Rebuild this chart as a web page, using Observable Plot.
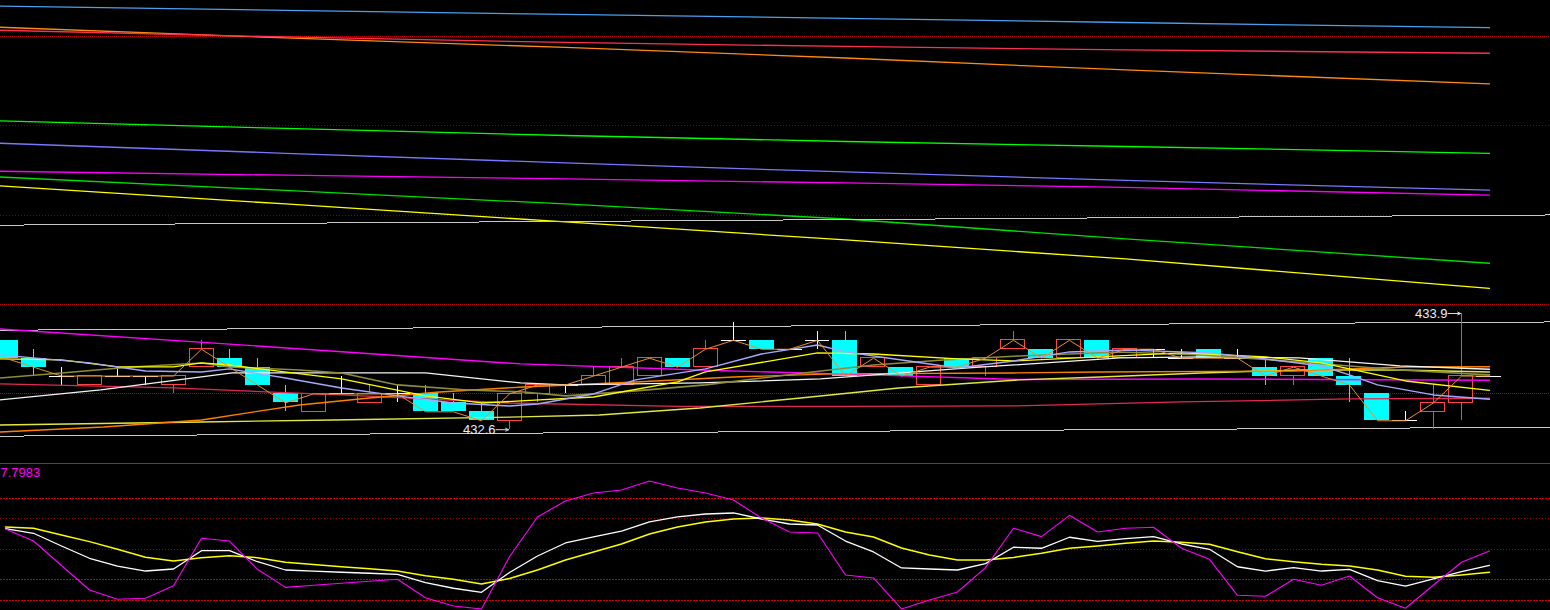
<!DOCTYPE html>
<html><head><meta charset="utf-8">
<script src="https://cdn.jsdelivr.net/npm/d3@7"></script>
<script src="https://cdn.jsdelivr.net/npm/@observablehq/plot@0.6"></script>
<style>
html,body{margin:0;padding:0;background:#000;overflow:hidden;}
#chart{width:1550px;height:610px;background:#000;overflow:hidden;}
#chart svg{display:block;max-width:none;}
</style></head><body><div id="chart"></div>
<script>
// ---------- candles (index 0..53) ----------
const open  = [433.6,433.4,433.2,433.1,433.2,433.2,433.1,433.3,433.4,433.3, 433.0,432.8,433.0,432.9,433.0,433.0,432.9,432.8,432.7,433.0, 433.1,433.1,433.1,433.2,433.4,433.3,433.6,433.6,433.5,433.6, 433.6,433.3,433.3,433.1,433.4,433.3,433.5,433.5,433.4,433.6, 433.4,433.5,433.4,433.5,433.4,433.3,433.2,433.4,433.2,433.0, 432.7,432.8,432.9,433.2];
const close = [433.4,433.3,433.2,433.2,433.2,433.2,433.2,433.5,433.3,433.1, 432.9,433.0,433.0,433.0,433.0,432.8,432.8,432.7,433.0,433.1, 433.1,433.2,433.3,433.4,433.3,433.5,433.6,433.5,433.5,433.6, 433.2,433.4,433.2,433.3,433.3,433.4,433.6,433.4,433.6,433.4, 433.5,433.5,433.4,433.4,433.4,433.2,433.3,433.2,433.1,432.7, 432.7,432.9,433.2,433.2];
const high  = [433.6,433.5,433.3,433.2,433.3,433.2,433.2,433.6,433.5,433.4, 433.1,433.0,433.2,433.1,433.1,433.1,433.0,432.9,433.0,433.1, 433.1,433.3,433.4,433.4,433.4,433.6,433.8,433.6,433.5,433.7, 433.7,433.4,433.3,433.3,433.4,433.4,433.7,433.5,433.6,433.6, 433.5,433.5,433.5,433.5,433.5,433.4,433.3,433.4,433.4,433.0, 432.8,433.1,433.9,433.2];
const low   = [433.4,433.2,433.1,433.1,433.2,433.1,433.0,433.3,433.3,433.1, 432.8,432.8,433.0,432.9,432.9,432.8,432.8,432.7,432.6,432.9, 433.0,433.1,433.1,433.2,433.3,433.3,433.6,433.5,433.5,433.5, 433.2,433.3,433.2,433.1,433.3,433.2,433.5,433.4,433.4,433.4, 433.4,433.4,433.4,433.4,433.4,433.1,433.1,433.2,432.9,432.7, 432.7,432.6,432.7,433.2];

// ---------- long moving averages (top area) ----------
const longIdx      = [-0.2, 10, 20, 30, 40, 53];
const maBlueLong   = [437.337,437.291,437.246,437.201,437.155,437.097];
const maOrangeLong = [437.102,436.982,436.876,436.758,436.624,436.468];
const maRedLong    = [437.068,436.993,436.932,436.887,436.848,436.811];
const maGreenLong  = [436.054,435.970,435.891,435.824,435.768,435.692];
const maSlateLong  = [435.804,435.692,435.584,435.483,435.388,435.279];
const maPinkLong   = [435.491,435.447,435.405,435.360,435.310,435.223];
const maGreen2Long = [435.427,435.276,435.125,434.957,434.734,434.462];
const maYellowLong = [435.327,435.125,434.924,434.723,434.510,434.182];

// ---------- channel lines ----------
const channelIdx = [-0.2, 55.16];
const chanUpper  = [434.888, 435.002];
const chanMid    = [433.713, 433.805];
const chanLow    = [432.528, 432.628];

// ---------- short moving averages (candle area) ----------
const ma5Idx = [-0.2,1,3,5,7,8,10,12,14,16,18,19,21,22.5,25,27,29,30,32,34,36,38,40,43,45,47,48,49,51,53];
const ma5Val = [433.436,433.403,433.347,433.257,433.246,433.280,433.179,433.067,432.978,432.899,432.866,432.888,433.000,433.157,433.280,433.447,433.548,433.470,433.380,433.291,433.369,433.470,433.492,433.459,433.392,433.313,433.213,433.101,432.989,432.941];
const ma10Idx = [-0.2,2,4,6,7,8,12,15,17,18.4,21,24,25,29,31,34,36,39,42,45,47,50,53];
const ma10Val = [433.392,433.380,433.302,433.302,433.347,433.324,433.168,432.978,432.899,432.922,432.966,433.134,433.246,433.459,433.447,433.392,433.369,433.414,433.459,433.414,433.347,433.145,433.041];
const ma20Idx = [-0.2,2,4.5,7,8,10.5,12,14,16.5,18.5,20,22.5,25,28.5,31,33.5,36.2,39.8,42.7,46.2,49.8,53];
const ma20Val = [433.179,433.235,433.302,433.347,433.302,433.268,433.235,433.101,433.045,433.022,432.978,433.034,433.101,433.235,433.324,433.380,433.425,433.470,433.436,433.358,433.268,433.213];
const maWhiteIdx = [-0.2,3.4,8.1,15,18.4,20,24.8,29.1,34.4,39.8,42.7,46.2,49.8,53];
const maWhiteVal = [432.933,433.045,433.235,433.235,433.123,433.101,433.123,433.168,433.291,433.403,433.414,433.403,433.313,433.276];
const maOrangeIdx = [-0.2,3.5,7,10.5,13,15.5,18.5,22.5,26,29.5,36,39,46,50,53];
const maOrangeVal = [432.575,432.631,432.709,432.877,432.955,433.022,433.078,433.134,433.190,433.224,433.235,433.246,433.257,433.302,433.305];
const maLimeIdx = [-0.2,7,11.7,18.4,21.2,24.8,28.4,31.9,36.2,39.1,42.7,46.2,49.8,53];
const maLimeVal = [432.653,432.687,432.709,432.743,432.765,432.843,432.955,433.067,433.157,433.190,433.235,433.268,433.268,433.246];
const maMagentaIdx = [-0.2,9,18.4,24.8,30.9,36.2,42.7,53];
const maMagentaVal = [433.727,433.537,433.336,433.268,433.213,433.162,433.168,433.153];
const maCrimsonIdx = [-0.2,6,12,18,24,30,36,42,48,53];
const maCrimsonVal = [433.112,433.067,432.989,432.899,432.860,432.860,432.866,432.911,432.944,432.952];

// ---------- grid & labels ----------
const gridBright = [437, 434, 433];
const gridDim    = [436, 435];
const extremes = [{i: 52, p: 433.9, label: "433.9"}, {i: 18, p: 432.6, label: "432.6"}];

// ---------- KDJ ----------
const kdjJ = [69.9,58.1,34.1,10.1,1.0,2.0,14.3,60.8,58.1,30.4, 12.7,14.7,16.7,18.6,20.6,2.5,-5.6,-8.5,42.7,81.7, 97.4,105.2,108.1,117.0,110.1,105.2,98.3,80.7,67.0,66.0, 24.8,21.9,-8.5,0.3,8.1,32.0,70.6,62.4,83.3,67.0, 70.6,71.6,51.0,40.2,4.9,3.9,20.6,14.7,23.8,2.5, -7.8,15.0,37.3,48.3];
const kdjK = [70.3,65.7,53.2,41.2,33.6,28.7,30.7,48.6,48.6,37.8, 29.7,28.6,27.5,26.5,25.5,17.3,11.8,7.8,27.2,43.4, 56.2,62.1,67.9,76.8,81.7,84.6,85.6,79.7,74.8,73.8, 58.1,47.4,31.7,30.7,29.7,36.0,52.0,51.0,61.8,57.8, 60.4,62.4,55.2,50.0,32.9,28.7,32.0,28.7,30.4,19.2, 14.0,20.9,28.0,34.3];
const kdjD = [71.9,70.6,64.0,57.5,50.0,42.2,38.5,41.8,43.7,41.8, 37.3,35.1,33.0,30.9,28.7,24.1,20.6,16.0,21.4,29.7, 39.5,47.4,55.2,65.0,71.9,76.8,79.7,80.7,78.7,74.8, 67.0,62.1,51.3,44.4,39.5,39.5,42.0,46.1,51.0,53.2, 55.9,58.1,56.9,54.9,47.6,40.8,37.8,35.3,33.6,29.7, 23.5,22.5,24.8,27.5];
const kdjGridBright = [100, 20, 0];
const kdjGridDim = [80, 50];
const kdjLabel = "7.7983";

// ---------- build ----------
const candles = open.map((o, i) => ({i, open: o, close: close[i], high: high[i], low: low[i],
  dir: close[i] > o ? "up" : close[i] < o ? "down" : "flat"}));
const up = candles.filter(d => d.dir === "up");
const down = candles.filter(d => d.dir === "down");
const flat = candles.filter(d => d.dir === "flat");
const pts = (ix, v) => ix.map((x, k) => ({x, y: v[k]}));

const xDomain = [-0.1786, 55.1786];
const yDomain = [432.222, 437.401];
const kdjDomain = [-10.0, 134.1];
const crisp = {shapeRendering: "crispEdges"};
const style = {background: "#000", fontFamily: "'Liberation Sans', Arial, sans-serif", fontSize: "13px"};

const longLines = [
  [longIdx, maBlueLong, "#4a9ff0"], [longIdx, maOrangeLong, "#ff8a10"], [longIdx, maRedLong, "#ff3050"],
  [longIdx, maGreenLong, "#00ff00"], [longIdx, maSlateLong, "#7878ff"], [longIdx, maPinkLong, "#ff00ff"],
  [longIdx, maGreen2Long, "#00e000"], [longIdx, maYellowLong, "#ffff00"]
];
const shortLines = [
  [maCrimsonIdx, maCrimsonVal, "#e02a55", 1.3],
  [maMagentaIdx, maMagentaVal, "#ff00ff", 1.4],
  [maLimeIdx, maLimeVal, "#e0e840", 1.4],
  [maOrangeIdx, maOrangeVal, "#ff8000", 1.4],
  [maWhiteIdx, maWhiteVal, "#f4f4f4", 1.3],
  [ma20Idx, ma20Val, "#8c8c3a", 1.6],
  [ma10Idx, ma10Val, "#ffff00", 1.3],
  [ma5Idx, ma5Val, "#a8a8ff", 1.4]
];

const upper = Plot.plot({
  width: 1550, height: 463, margin: 0,
  x: {domain: xDomain, axis: null},
  y: {domain: yDomain, axis: null},
  style,
  marks: [
    Plot.ruleY(gridBright, {stroke: "#c00000", strokeDasharray: "1,1", ...crisp}),
    Plot.ruleY(gridDim, {stroke: "#8a0000", strokeDasharray: "1,2", ...crisp}),
    ...longLines.map(([ix, v, c]) => Plot.line(pts(ix, v), {x: "x", y: "y", stroke: c, strokeWidth: 1.3})),
    ...[chanUpper, chanMid, chanLow].map(v => Plot.line(pts(channelIdx, v), {x: "x", y: "y", stroke: "#c8c8c8", strokeWidth: 1, ...crisp})),
    Plot.ruleX(up, {x: "i", y1: "low", y2: "high", stroke: "#ff4444", ...crisp}),
    Plot.ruleX(down, {x: "i", y1: "low", y2: "high", stroke: "#00ffff", ...crisp}),
    Plot.ruleX(flat.filter(d => d.high > d.low), {x: "i", y1: "low", y2: "high", stroke: "#ffffff", ...crisp}),
    Plot.rect(up, {x1: d => d.i - 12/28, x2: d => d.i + 12/28, y1: "open", y2: "close", fill: "#000", stroke: "#ff4444", ...crisp}),
    Plot.rect(down, {x1: d => d.i - 12.5/28, x2: d => d.i + 12.5/28, y1: "open", y2: "close", fill: "#00ffff", ...crisp}),
    Plot.ruleY(flat, {y: "close", x1: d => d.i - 12.5/28, x2: d => d.i + 12.5/28, stroke: "#ffffff", ...crisp}),
    ...shortLines.map(([ix, v, c, w]) => Plot.line(pts(ix, v), {x: "x", y: "y", stroke: c, strokeWidth: w})),
    Plot.line(candles, {x: "i", y: "close", stroke: "#e8902a", strokeWidth: 1}),
    Plot.arrow(extremes, {x1: d => d.i - 0.48, x2: d => d.i - 0.03, y1: "p", y2: "p", stroke: "#d0dcf0", strokeWidth: 1, headLength: 5, headAngle: 50}),
    Plot.text(extremes, {x: "i", y: "p", text: "label", textAnchor: "end", dx: -14, fill: "#e6eeff", fontSize: 13})
  ]
});

const lower = Plot.plot({
  width: 1550, height: 147, margin: 0,
  x: {domain: xDomain, axis: null},
  y: {domain: kdjDomain, axis: null},
  style,
  marks: [
    Plot.ruleY([kdjDomain[1]], {stroke: "#b01c1c", ...crisp}),
    Plot.ruleY(kdjGridBright, {stroke: "#d00000", strokeDasharray: "2,1", ...crisp}),
    Plot.ruleY(kdjGridDim, {stroke: "#a00000", strokeDasharray: "1,2", ...crisp}),
    Plot.line(kdjD, {x: (d, k) => k, y: d => d, stroke: "#ffff00", strokeWidth: 1.5}),
    Plot.line(kdjK, {x: (d, k) => k, y: d => d, stroke: "#ffffff", strokeWidth: 1.3}),
    Plot.line(kdjJ, {x: (d, k) => k, y: d => d, stroke: "#ff00ff", strokeWidth: 1.1}),
    Plot.text([kdjLabel], {frameAnchor: "top-left", textAnchor: "start", lineAnchor: "top", dy: 4, text: d => d, fill: "#ff00ff", fontSize: 13})
  ]
});

const root = document.getElementById("chart");
root.appendChild(upper);
root.appendChild(lower);
</script></body></html>
